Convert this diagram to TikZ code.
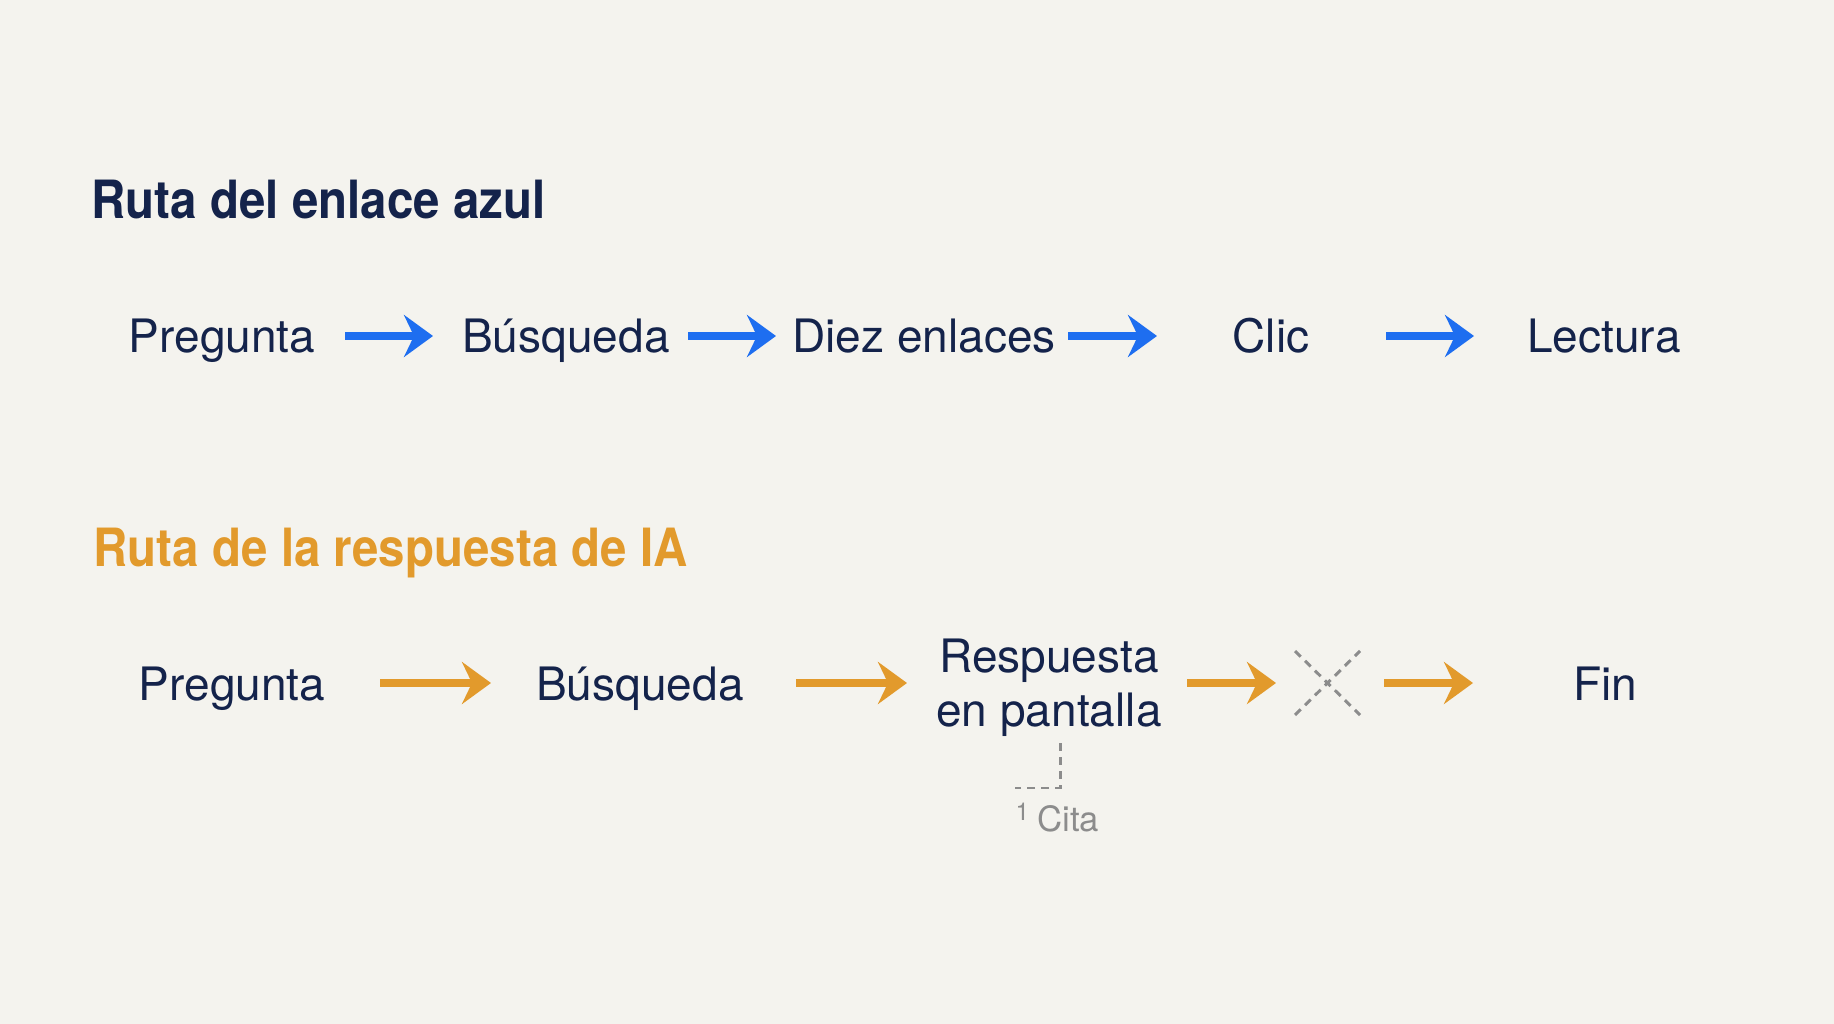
\documentclass[tikz,border=0pt]{standalone}
\usepackage{fontspec}
\setmainfont{TeX Gyre Heros}
\newfontfamily\headfont[FakeStretch=0.9]{TeX Gyre Heros}
\usetikzlibrary{arrows.meta}
\definecolor{paper}{HTML}{F4F3EE}
\definecolor{ink}{HTML}{14234B}
\definecolor{linkblue}{HTML}{1E6EF0}
\definecolor{aiorange}{HTML}{E29A2C}
\definecolor{citegray}{HTML}{8C8C8C}

\begin{document}
\begin{tikzpicture}[x=0.1mm, y=-0.1mm,
    every node/.style={inner sep=0pt, text=ink, font=\fontsize{13.1}{15.4}\selectfont},
    title/.style={anchor=base west, font=\headfont\bfseries\fontsize{15}{18}\selectfont},
    stepnode/.style={anchor=base},
    flow/.style={line width=2.1pt, -{Stealth[length=2.9mm, width=4.2mm, inset=1mm]}},
    gone/.style={draw=citegray, line width=0.85pt, dash pattern=on 0.8mm off 0.6mm}]
  \fill[paper] (0,0) rectangle (1834,1024);
  \useasboundingbox (0,0) rectangle (1834,1024);

  % blue link route
  \node[title] (t1) at (91,219) {Ruta del enlace azul};
  \node[stepnode] (p1) at (222,353) {Pregunta};
  \node[stepnode] (b1) at (566,353) {Búsqueda};
  \node[stepnode] (d1) at (924,353) {Diez enlaces};
  \node[stepnode] (c1) at (1271,353) {Clic};
  \node[stepnode] (l1) at (1604,353) {Lectura};
  \foreach \s/\e [count=\i] in {345/433, 688/776, 1068/1157, 1386/1474} {
    \coordinate (u\i) at (\s,336);
    \coordinate (v\i) at (\e,336);
    \draw[flow, linkblue] (u\i) -- (v\i);
  }

  % AI answer route
  \node[title, text=aiorange] (t2) at (93,566) {Ruta de la respuesta de IA};
  \node[stepnode] (p2) at (232,700) {Pregunta};
  \node[stepnode] (b2) at (640,700) {Búsqueda};
  \node[align=center] (r2) at (1049,688) {Respuesta\\en pantalla};
  \node[stepnode] (f2) at (1605,700) {Fin};
  \foreach \s/\e [count=\i] in {380/491, 796/907, 1187/1276, 1384/1473} {
    \coordinate (a\i) at (\s,683);
    \coordinate (z\i) at (\e,683);
    \draw[flow, aiorange] (a\i) -- (z\i);
  }

  % crossed out click
  \coordinate (x1) at (1295,651);
  \coordinate (x2) at (1360,715);
  \coordinate (x3) at (1295,715);
  \coordinate (x4) at (1360,651);
  \draw[gone] (x1) -- (x2);
  \draw[gone] (x3) -- (x4);

  % citation
  \coordinate (k1) at (1060,743);
  \coordinate (k2) at (1015,788);
  \draw[gone] (k1) |- (k2);
  \node[anchor=base west, text=citegray, font=\fontsize{9.9}{12}\selectfont] (cita) at (1015,831)
    {\raisebox{1.1mm}{\fontsize{7}{8}\selectfont 1}\hspace{0.8mm}Cita};
\end{tikzpicture}
\end{document}
